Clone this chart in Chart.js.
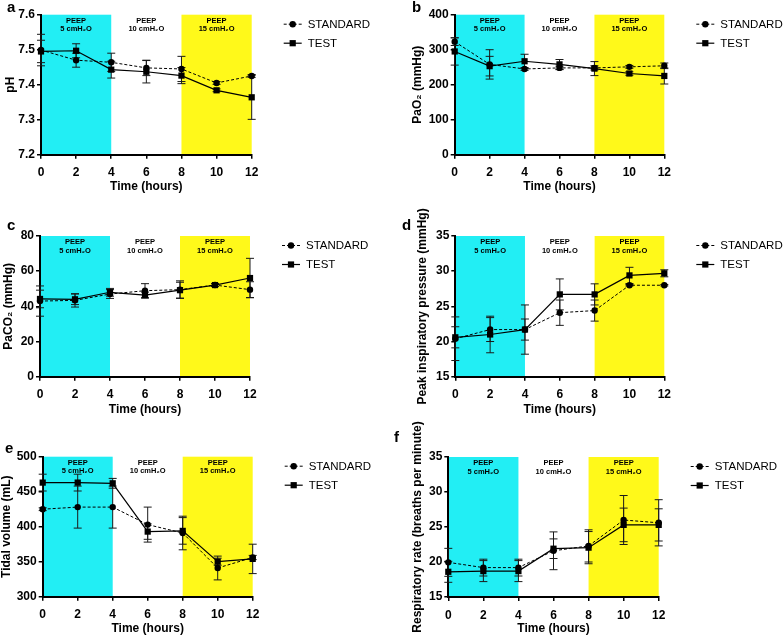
<!DOCTYPE html>
<html>
<head>
<meta charset="utf-8">
<script src="https://cdn.jsdelivr.net/npm/chart.js@4.4.1/dist/chart.umd.min.js"></script>
<style>
  html, body { margin: 0; padding: 0; background: #fff; }
  #wrap { position: relative; width: 783px; height: 636px; overflow: hidden; }
  canvas { position: absolute; }
</style>
</head>
<body>
<div id="wrap">
  <canvas id="pa"></canvas>
  <canvas id="pb"></canvas>
  <canvas id="pc"></canvas>
  <canvas id="pd"></canvas>
  <canvas id="pe"></canvas>
  <canvas id="pf"></canvas>
</div>
<script>
// ---- data ----
const TIMES = [0, 2, 4, 6, 8, 10, 12];
const SERIES = ['STANDARD', 'TEST'];
const PHASE_LABELS = [['PEEP', '5 cmH₂O'], ['PEEP', '10 cmH₂O'], ['PEEP', '15 cmH₂O']];
const PHASE_EDGES = [0, 4, 8, 12];
const PHASE_COLORS = ['#22EEF4', null, '#FFF91A'];

// a - pH
const PH_STANDARD    = [7.499, 7.470, 7.464, 7.448, 7.445, 7.405, 7.425];
const PH_STANDARD_SD = [0.045, 0.020, 0.026, 0.022, 0.036, 0.004, 0.004];
const PH_TEST        = [7.495, 7.497, 7.443, 7.437, 7.426, 7.384, 7.364];
const PH_TEST_SD     = [0.032, 0.020, 0.024, 0.032, 0.023, 0.004, 0.063];
const PH_TICKS       = [7.2, 7.3, 7.4, 7.5, 7.6];

// b - PaO2
const PAO2_STANDARD    = [323, 258, 245, 248, 248, 251, 254];
const PAO2_STANDARD_SD = [11, 42, 4, 5, 6, 4, 8];
const PAO2_TEST        = [295, 253, 267, 258, 246, 232, 225];
const PAO2_TEST_SD     = [39, 28, 20, 14, 20, 5, 23];
const PAO2_TICKS       = [0, 100, 200, 300, 400];

// c - PaCO2
const PACO2_STANDARD    = [43.0, 43.4, 47.0, 48.9, 49.5, 52.1, 49.5];
const PACO2_STANDARD_SD = [8.6, 3.8, 2.5, 4.0, 5.0, 0.8, 4.5];
const PACO2_TEST        = [44.2, 44.0, 48.0, 46.4, 49.2, 52.1, 56.1];
const PACO2_TEST_SD     = [5.0, 3.0, 2.2, 1.7, 4.5, 0.8, 11.2];
const PACO2_TICKS       = [0, 20, 40, 60, 80];

// d - peak inspiratory pressure
const PIP_STANDARD    = [20.4, 21.7, 21.7, 24.1, 24.4, 28.0, 28.0];
const PIP_STANDARD_SD = [3.1, 1.7, 1.5, 1.8, 1.5, 0.1, 0.1];
const PIP_TEST        = [20.6, 21.0, 21.7, 26.7, 26.7, 29.4, 29.7];
const PIP_TEST_SD     = [1.5, 2.6, 3.5, 2.2, 1.5, 1.15, 0.5];
const PIP_TICKS       = [15, 20, 25, 30, 35];

// e - tidal volume
const VT_STANDARD    = [425, 428, 428, 403, 391, 341, 356];
const VT_STANDARD_SD = [2, 30, 30, 25, 24, 17, 3];
const VT_TEST        = [463, 463, 462, 393, 394, 350, 354];
const VT_TEST_SD     = [12, 12, 7, 11, 19, 5, 21];
const VT_TICKS       = [300, 350, 400, 450, 500];

// f - respiratory rate
const RR_STANDARD    = [19.95, 19.2, 19.2, 21.6, 22.3, 26.0, 25.6];
const RR_STANDARD_SD = [2.0, 1.2, 1.2, 2.7, 2.3, 3.5, 3.3];
const RR_TEST        = [18.6, 18.7, 18.7, 21.9, 22.05, 25.3, 25.3];
const RR_TEST_SD     = [1.5, 1.5, 1.5, 1.4, 2.3, 2.4, 2.3];
const RR_TICKS       = [15, 20, 25, 30, 35];

const FONT = "'Liberation Sans', Arial, Helvetica, sans-serif";

// ---- plugins ----
const phaseBands = {
    id: 'phaseBands',
    beforeDraw(chart) {
        const { ctx, chartArea: a, scales: { x } } = chart;
        ctx.save();
        for (let i = 0; i < PHASE_LABELS.length; i++) {
            const x0 = x.getPixelForValue(PHASE_EDGES[i]);
            const x1 = x.getPixelForValue(PHASE_EDGES[i + 1]);
            if (PHASE_COLORS[i]) {
                ctx.fillStyle = PHASE_COLORS[i];
                ctx.fillRect(x0, a.top, x1 - x0, a.bottom - a.top);
            }
            ctx.fillStyle = '#000';
            ctx.font = 'bold 7.5px ' + FONT;
            ctx.textAlign = 'center';
            ctx.textBaseline = 'middle';
            PHASE_LABELS[i].forEach((t, j) => ctx.fillText(t, (x0 + x1) / 2, a.top + 6 + j * 8.5));
        }
        ctx.restore();
    }
};

const errorBars = {
    id: 'errorBars',
    beforeDatasetsDraw(chart) {
        const { ctx, scales: { x, y } } = chart;
        ctx.save();
        ctx.strokeStyle = '#1a1a1a';
        ctx.lineWidth = 1;
        chart.data.datasets.forEach(ds => {
            ds.data.forEach((pt, i) => {
                const sd = ds.sd[i];
                const px = x.getPixelForValue(pt.x);
                const hi = y.getPixelForValue(pt.y + sd);
                const lo = y.getPixelForValue(pt.y - sd);
                ctx.beginPath();
                ctx.moveTo(px, hi); ctx.lineTo(px, lo);
                ctx.moveTo(px - 4, hi); ctx.lineTo(px + 4, hi);
                ctx.moveTo(px - 4, lo); ctx.lineTo(px + 4, lo);
                ctx.stroke();
            });
        });
        ctx.restore();
    }
};

function drawMarker(ctx, style, r, x, y) {
    ctx.beginPath();
    if (style === 'rect') {
        const s = r * Math.SQRT1_2;
        ctx.rect(x - s, y - s, 2 * s, 2 * s);
    } else {
        ctx.arc(x, y, r, 0, Math.PI * 2);
    }
    ctx.fill();
}

const sideLegend = {
    id: 'sideLegend',
    afterDraw(chart) {
        const { ctx, chartArea: a } = chart;
        ctx.save();
        chart.data.datasets.forEach((ds, i) => {
            const y = a.top + 9.5 + i * 19;
            const x0 = a.right + 32;
            ctx.strokeStyle = '#000';
            ctx.lineWidth = ds.borderWidth;
            ctx.setLineDash(ds.borderDash || []);
            ctx.beginPath(); ctx.moveTo(x0, y); ctx.lineTo(x0 + 18, y); ctx.stroke();
            ctx.setLineDash([]);
            ctx.fillStyle = '#000';
            drawMarker(ctx, ds.pointStyle, ds.pointRadius, x0 + 9, y);
            ctx.font = '11.5px ' + FONT;
            ctx.textAlign = 'left';
            ctx.textBaseline = 'middle';
            ctx.fillText(ds.label, a.right + 56, y + 0.5);
        });
        ctx.restore();
    }
};

const panelLetter = {
    id: 'panelLetter',
    afterDraw(chart, args, opts) {
        const { ctx } = chart;
        ctx.save();
        ctx.fillStyle = '#000';
        ctx.font = 'bold 15px ' + FONT;
        ctx.textAlign = 'left';
        ctx.textBaseline = 'alphabetic';
        ctx.fillText(opts.text, opts.x, opts.y);
        ctx.restore();
    }
};

// ---- panels ----
function renderPanel(p) {
    const canvas = document.getElementById(p.id);
    const [cl, ct, cw, ch] = p.box;
    const [al, at, ar, ab] = p.area;
    canvas.width = cw; canvas.height = ch;
    canvas.style.left = cl + 'px'; canvas.style.top = ct + 'px';

    const tickFont = { family: FONT, size: 12, weight: 'bold' };
    const titleFont = { family: FONT, size: 12, weight: 'bold', lineHeight: 1 };
    const axisBorder = { display: true, color: '#000', width: 2 };
    const axisGrid = { drawOnChartArea: false, color: '#000', lineWidth: 1.5, tickLength: 4 };

    const series = [
        { mean: p.std, sd: p.stdSd, dash: [3, 2], width: 1, style: 'circle', r: 3.2 },
        { mean: p.test, sd: p.testSd, dash: [], width: 1.2, style: 'rect', r: 4.4 }
    ];

    new Chart(canvas, {
        type: 'line',
        data: {
            datasets: series.map((s, i) => ({
                label: SERIES[i],
                data: TIMES.map((t, k) => ({ x: t, y: s.mean[k] })),
                sd: s.sd,
                borderColor: '#000',
                backgroundColor: '#000',
                borderWidth: s.width,
                borderDash: s.dash,
                pointStyle: s.style,
                pointRadius: s.r,
                pointBorderWidth: 0,
                tension: 0,
                clip: false
            }))
        },
        options: {
            responsive: false,
            animation: false,
            devicePixelRatio: 1,
            layout: { padding: { left: 0, top: at - ct, right: cl + cw - ar, bottom: 0 } },
            plugins: {
                legend: { display: false },
                tooltip: { enabled: false },
                panelLetter: { text: p.letter[0], x: p.letter[1] - cl, y: p.letter[2] - ct }
            },
            scales: {
                x: {
                    type: 'linear', min: 0, max: 12,
                    afterBuildTicks: s => { s.ticks = TIMES.map(v => ({ value: v })); },
                    afterFit: s => { s.height = ct + ch - ab; },
                    border: axisBorder,
                    grid: axisGrid,
                    ticks: { autoSkip: false, maxRotation: 0, color: '#000', font: tickFont, padding: 7 },
                    title: {
                        display: true, text: 'Time (hours)', color: '#000', font: titleFont,
                        padding: { top: 0, bottom: Math.max(0, ct + ch - p.xTitleY - 6) }
                    }
                },
                y: {
                    type: 'linear', min: p.ticks[0], max: p.ticks[p.ticks.length - 1],
                    afterBuildTicks: s => { s.ticks = p.ticks.map(v => ({ value: v })); },
                    afterFit: s => { s.width = al - cl; },
                    border: axisBorder,
                    grid: axisGrid,
                    ticks: { color: '#000', font: tickFont, padding: 2, callback: v => Number(v).toFixed(p.decimals) },
                    title: {
                        display: true, text: p.yTitle, color: '#000', font: titleFont,
                        padding: { top: Math.max(0, p.yTitleX - cl - 6), bottom: 0 }
                    }
                }
            }
        },
        plugins: [phaseBands, errorBars, sideLegend, panelLetter]
    });
}

const PANELS = [
    { id: 'pa', box: [0, 0, 391, 205], area: [41, 14.7, 251.7, 154.7], yTitle: 'pH', yTitleX: 10.5, xTitleY: 187,
      letter: ['a', 7, 12], ticks: PH_TICKS, decimals: 1,
      std: PH_STANDARD, stdSd: PH_STANDARD_SD, test: PH_TEST, testSd: PH_TEST_SD },
    { id: 'pb', box: [391, 0, 392, 205], area: [454.7, 14.7, 664.3, 154.7], yTitle: 'PaO₂ (mmHg)', yTitleX: 418, xTitleY: 187,
      letter: ['b', 412, 12], ticks: PAO2_TICKS, decimals: 0,
      std: PAO2_STANDARD, stdSd: PAO2_STANDARD_SD, test: PAO2_TEST, testSd: PAO2_TEST_SD },
    { id: 'pc', box: [0, 205, 391, 215], area: [40, 236, 250, 376.7], yTitle: 'PaCO₂ (mmHg)', yTitleX: 8.5, xTitleY: 410,
      letter: ['c', 7, 230], ticks: PACO2_TICKS, decimals: 0,
      std: PACO2_STANDARD, stdSd: PACO2_STANDARD_SD, test: PACO2_TEST, testSd: PACO2_TEST_SD },
    { id: 'pd', box: [391, 205, 392, 215], area: [455.3, 236, 664.3, 376.7], yTitle: 'Peak inspiratory pressure (mmHg)', yTitleX: 423, xTitleY: 410,
      letter: ['d', 402, 230], ticks: PIP_TICKS, decimals: 0,
      std: PIP_STANDARD, stdSd: PIP_STANDARD_SD, test: PIP_TEST, testSd: PIP_TEST_SD },
    { id: 'pe', box: [0, 420, 391, 216], area: [42.7, 456.7, 252.7, 596.7], yTitle: 'Tidal volume (mL)', yTitleX: 7, xTitleY: 629,
      letter: ['e', 5, 453], ticks: VT_TICKS, decimals: 0,
      std: VT_STANDARD, stdSd: VT_STANDARD_SD, test: VT_TEST, testSd: VT_TEST_SD },
    { id: 'pf', box: [391, 420, 392, 216], area: [448.3, 457, 658.7, 597], yTitle: 'Respiratory rate (breaths per minute)', yTitleX: 418, xTitleY: 629,
      letter: ['f', 394, 442], ticks: RR_TICKS, decimals: 0,
      std: RR_STANDARD, stdSd: RR_STANDARD_SD, test: RR_TEST, testSd: RR_TEST_SD }
];

PANELS.forEach(renderPanel);
</script>
</body>
</html>
